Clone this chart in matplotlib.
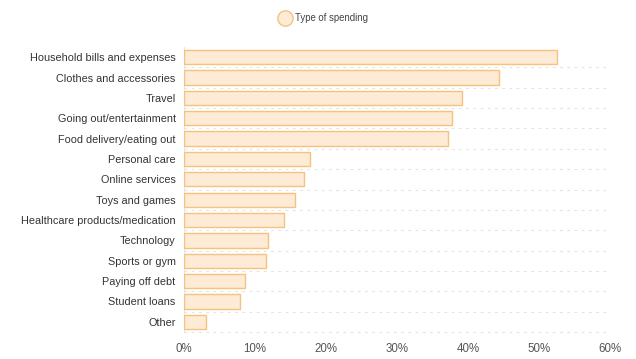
import matplotlib
matplotlib.use("Agg")
import matplotlib.pyplot as plt
from matplotlib.lines import Line2D

categories = ["Household bills and expenses", "Clothes and accessories", "Travel",
              "Going out/entertainment", "Food delivery/eating out", "Personal care",
              "Online services", "Toys and games", "Healthcare products/medication",
              "Technology", "Sports or gym", "Paying off debt", "Student loans", "Other"]
values = [52.5, 44.3, 39.1, 37.8, 37.2, 17.8, 16.9, 15.7, 14.1, 11.8, 11.6, 8.6, 7.9, 3.1]
xticks = [0, 10, 20, 30, 40, 50, 60]
xticklabels = ["0%", "10%", "20%", "30%", "40%", "50%", "60%"]
series_name = "Type of spending"

plt.rcParams['font.family'] = ['Liberation Sans', 'DejaVu Sans']

fig = plt.figure(figsize=(6.36, 3.59), dpi=100)
ax = fig.add_axes([184/636, 1 - 332/359, (610-184)/636, (332-47)/359])

n = len(categories)
ypos = list(range(n))
ax.barh(ypos, values, height=0.7, color="#FDEBD5", edgecolor="#F5C27F", linewidth=1.0, zorder=3)
ax.set_ylim(n - 0.5, -0.5)
ax.set_xlim(0, 60)

for b in range(1, n + 1):
    ax.axhline(b - 0.5, color="#e4e4e4", linewidth=0.8, linestyle=(0, (2.5, 4)), zorder=1, clip_on=False)

ax.set_yticks(ypos)
ax.set_yticklabels(categories, fontsize=7.8, color="#333333")
ax.set_xticks(xticks)
ax.set_xticklabels(xticklabels, fontsize=8.3, color="#555555")
ax.tick_params(axis='both', length=0)
ax.tick_params(axis='y', pad=6)
ax.tick_params(axis='x', pad=8)
for s in ["top", "right", "bottom"]:
    ax.spines[s].set_visible(False)
ax.spines["left"].set_color("#e6e6e6")
ax.spines["left"].set_linewidth(0.8)

handle = Line2D([], [], marker='o', linestyle='None', markersize=11,
                markerfacecolor="#FDEBD5", markeredgecolor="#F5C27F", markeredgewidth=1.0)
fig.legend([handle], [series_name], loc='center', bbox_to_anchor=(322/636, 1 - 18/359),
           frameon=False, fontsize=6.9, handletextpad=0.0, labelcolor="#444444")

fig.savefig("out.png", dpi=100)
